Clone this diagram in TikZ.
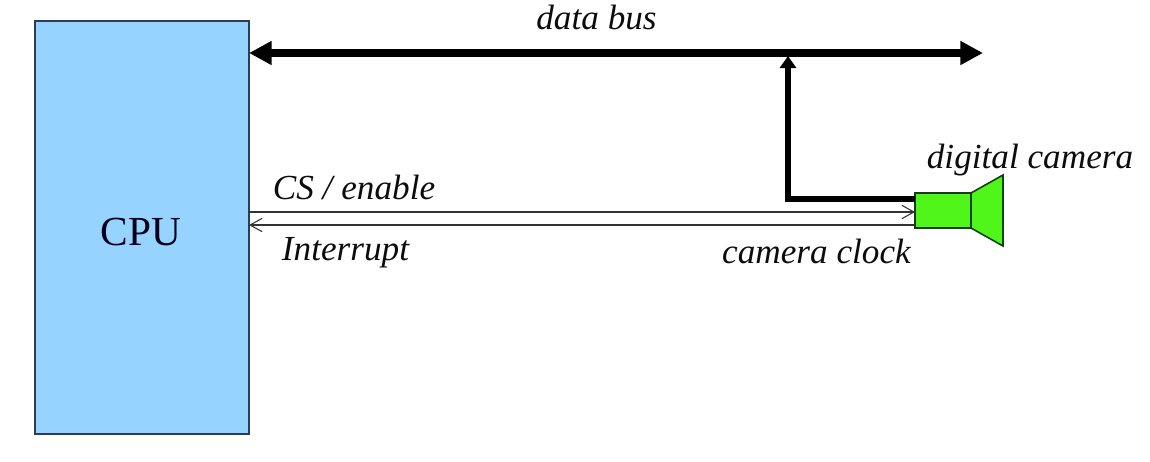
\documentclass[tikz,border=0pt]{standalone}
\usepackage{fontspec}
\setmainfont{Liberation Serif}
\usetikzlibrary{arrows.meta}
\definecolor{cpublue}{RGB}{151,211,255}
\definecolor{camgreen}{RGB}{80,245,25}
\definecolor{edgeblue}{RGB}{40,62,90}
\definecolor{edgegreen}{RGB}{15,65,15}
\definecolor{inkdark}{RGB}{12,12,12}
\tikzset{
  lbl/.style={inner sep=0pt,anchor=base,font=\fontsize{26.4pt}{30pt}\selectfont\itshape,text=inkdark},
  cpubox/.style={draw=edgeblue,line width=1pt,fill=cpublue,minimum width=160.5pt,minimum height=309.75pt,inner sep=0pt,outer sep=0pt},
  cambody/.style={draw=edgegreen,line width=1.2pt,fill=camgreen,line join=miter},
  buswire/.style={line width=5.5pt,draw=black},
  branchwire/.style={line width=4.1pt,draw=black,line join=miter},
  sigwire/.style={line width=0.8pt,draw=black!80},
}
\begin{document}
\begin{tikzpicture}[x=0.75pt,y=-0.75pt]
\useasboundingbox (0,0) rectangle (1150,461);
\node[cpubox] (cpu) at (142,227.5) {};
\node[inner sep=0pt,anchor=base,font=\fontsize{31pt}{34pt}\selectfont,text=black!90!blue] (cpulabel) at (141,245) {CPU};

% camera
\node[cambody,minimum width=42pt,minimum height=26.25pt,inner sep=0pt,outer sep=0pt] (cam) at (943,210.5) {};
\draw[cambody] (cam.north east) -- (1003,175) -- (1003,246) -- (cam.south east) -- cycle;

% named ends
\coordinate (busL) at (cpu.east |- 0,53);
\coordinate (busR) at (983,53);
\coordinate (busJ) at (788,56);
\coordinate (camOut) at (cam.west |- 0,199);
\coordinate (csL) at (cpu.east |- 0,212);
\coordinate (csR) at (cam.west |- 0,212);
\coordinate (intL) at (cpu.east |- 0,225);
\coordinate (intR) at (cam.west |- 0,225);

\draw[buswire,{Triangle[length=17pt,width=17pt]}-{Triangle[length=17pt,width=17pt]}] (busL) -- (busR);
\draw[branchwire,-{Triangle[length=9pt,width=12pt]}] (camOut) -| (busJ);
\draw[sigwire,-{Straight Barb[length=9pt,width=10pt]}] (csL) -- (csR);
\draw[sigwire,{Straight Barb[length=9pt,width=10pt]}-] (intL) -- (intR);

\node[lbl] (databus) at (596.5,29) {data bus};
\node[lbl] (digcam) at (1030,168) {digital camera};
\node[lbl] (cs) at (354,199) {CS / enable};
\node[lbl] (int) at (345.5,260) {Interrupt};
\node[lbl] (clock) at (816.5,263) {camera clock};
\end{tikzpicture}
\end{document}
